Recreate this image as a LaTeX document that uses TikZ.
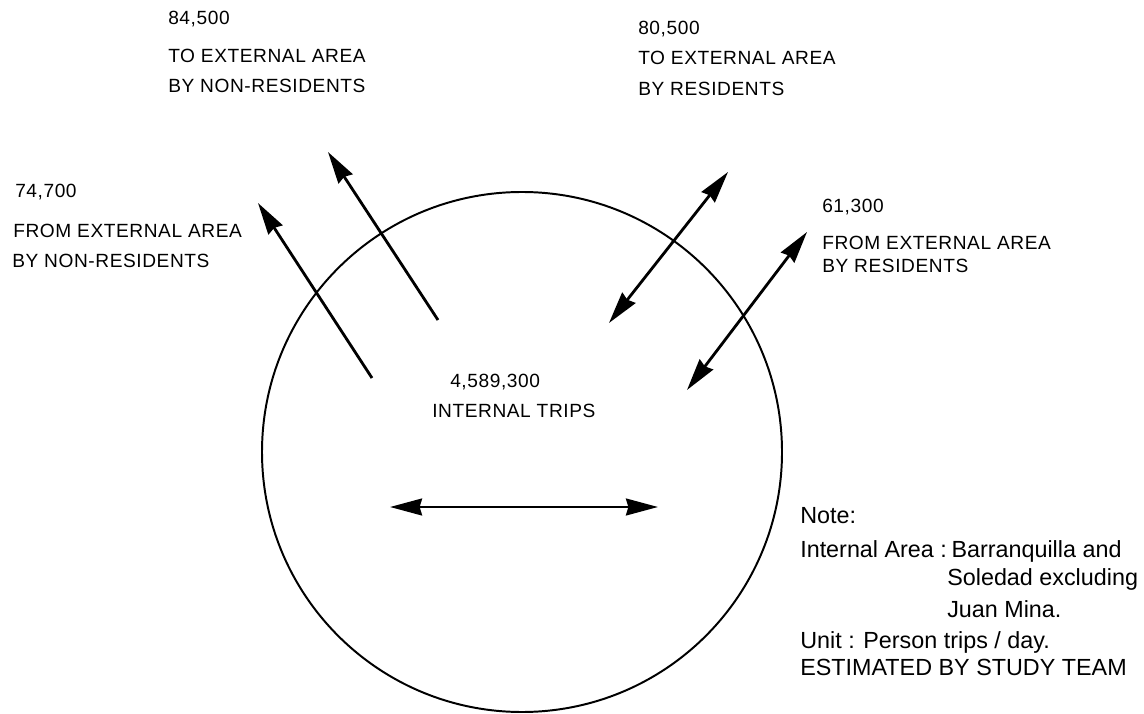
\documentclass[tikz,border=0pt]{standalone}
\usepackage{fontspec}
\setmainfont{Liberation Sans}
\usetikzlibrary{arrows.meta, positioning}

\tikzset{
  >={Stealth[length=0.8cm, width=0.42cm, inset=0.06cm]},
  flow/.style={line width=2pt},
  lbl/.style={anchor=base west, inner sep=0pt,
    font=\fontsize{13.6}{16}\selectfont\addfontfeature{LetterSpace=3}},
  note/.style={anchor=base west, inner sep=0pt,
    font=\fontsize{16.6}{19}\selectfont}
}

\begin{document}
\begin{tikzpicture}[x=0.025cm, y=-0.025cm]
    \useasboundingbox (0,0) rectangle (1144,714);

    % study area
    \draw[line width=1.4pt] (522,452) circle [radius=260];

    % arrow end points
    \coordinate (fromNRin)  at (372,378);
    \coordinate (fromNRout) at (258,203);
    \coordinate (toNRin)    at (438,320);
    \coordinate (toNRout)   at (328,152);
    \coordinate (toRin)     at (609,323);
    \coordinate (toRout)    at (728,172);
    \coordinate (fromRin)   at (687,390);
    \coordinate (fromRout)  at (807,232);
    \coordinate (intL)      at (390,507);
    \coordinate (intR)      at (658,507);

    \draw[flow, ->] (fromNRin) -- (fromNRout);
    \draw[flow, ->] (toNRin) -- (toNRout);
    \draw[flow, <->] (toRin) -- (toRout);
    \draw[flow, <->] (fromRin) -- (fromRout);
    \draw[flow, <->] (intL) -- (intR);

    % trip labels
    \node[lbl] (toNRnum) at (168,25) {84,500};
    \node[lbl] (toNRa)   at (168,63) {TO EXTERNAL AREA};
    \node[lbl] (toNRb)   at (168,93) {BY NON-RESIDENTS};

    \node[lbl] (toRnum)  at (638,35) {80,500};
    \node[lbl] (toRa)    at (638,65) {TO EXTERNAL AREA};
    \node[lbl] (toRb)    at (638,96) {BY RESIDENTS};

    \node[lbl] (fromNRnum) at (15,198) {74,700};
    \node[lbl] (fromNRa)   at (13,238) {FROM EXTERNAL AREA};
    \node[lbl] (fromNRb)   at (12,268) {BY NON-RESIDENTS};

    \node[lbl] (fromRnum) at (822,213) {61,300};
    \node[lbl] (fromRa)   at (822,250) {FROM EXTERNAL AREA};
    \node[lbl] (fromRb)   at (822,273) {BY RESIDENTS};

    \node[lbl] (intnum) at (450,388) {4,589,300};
    \node[lbl] (inttxt) at (432,418) {INTERNAL TRIPS};

    % note
    \node[note] (noteh)  at (800,523) {Note:};
    \node[note] (notea)  at (800,557) {Internal Area :\hspace{0.2em}Barranquilla and};
    \node[note] (noteb)  at (947,585) {Soledad excluding};
    \node[note] (notec)  at (947,617) {Juan Mina.};
    \node[note] (unit)   at (800,648) {Unit : Person trips / day.};
    \node[note] (estim)  at (800,675) {ESTIMATED BY STUDY TEAM};
\end{tikzpicture}
\end{document}
